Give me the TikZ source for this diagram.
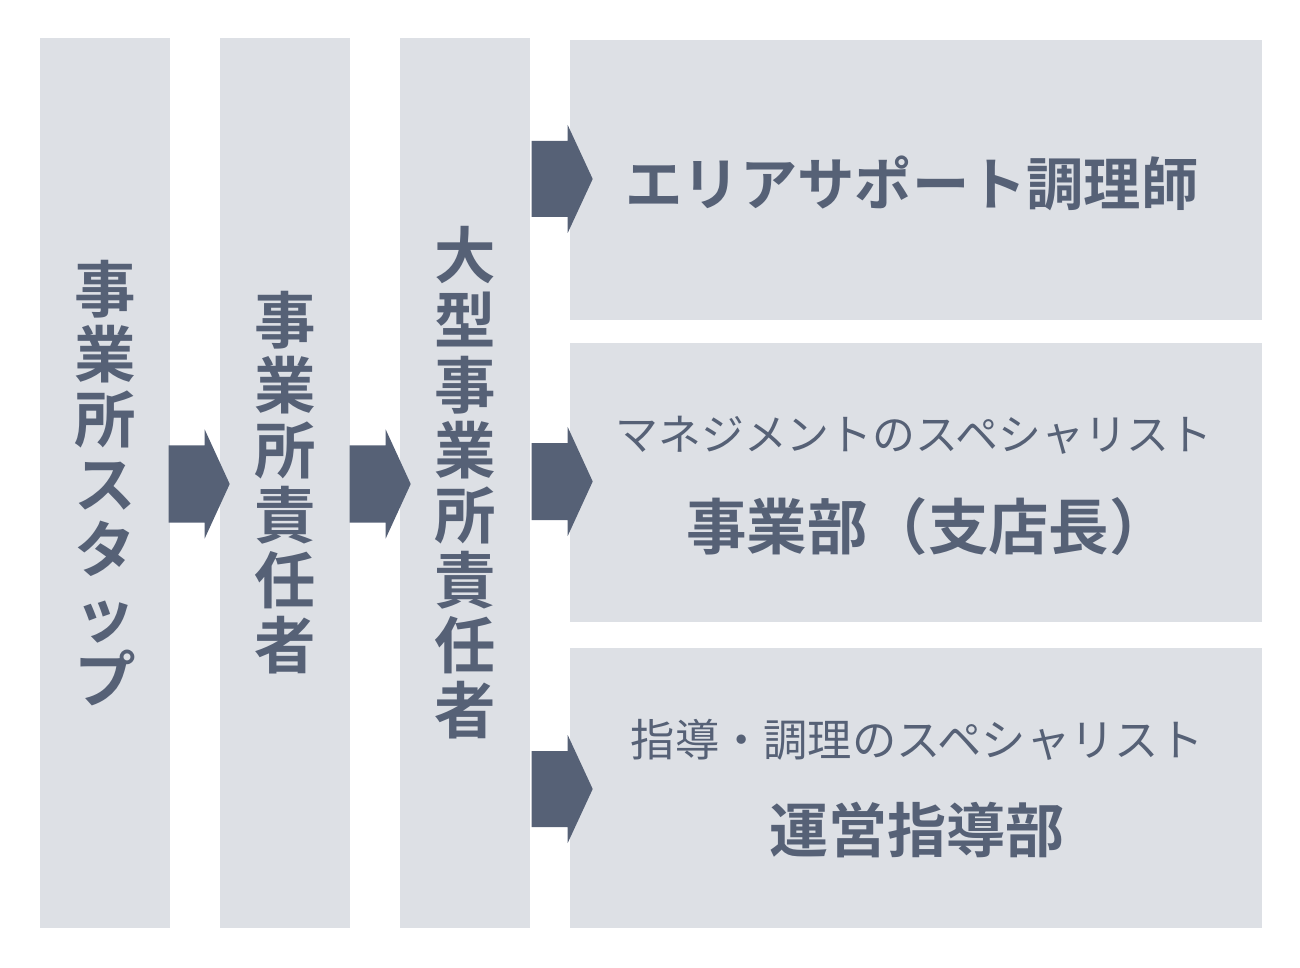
\documentclass[tikz,border=0pt]{standalone}
\usepackage{fontspec}
\setmainfont{Noto Sans CJK JP}[BoldFont={Noto Sans CJK JP Bold}]
\definecolor{panelgray}{HTML}{DDE0E5}
\definecolor{slateblue}{HTML}{566176}
\begin{document}
\begin{tikzpicture}[every node/.style={text=slateblue,inner sep=0pt},
  colbox/.style={fill=panelgray,minimum width=1.3cm,minimum height=8.9cm,align=center,font=\fontsize{17.5}{18.5}\selectfont\bfseries},
  rowbox/.style={fill=panelgray,minimum width=6.92cm,minimum height=2.8cm},
  subtxt/.style={font=\fontsize{12.2}{14}\selectfont},
  maintxt/.style={font=\fontsize{16.8}{18}\selectfont\bfseries},
  blockarr/.style={fill=slateblue}]
\useasboundingbox (0,0) rectangle (13,-9.68);
\node[colbox] (staff) at (1.05,-4.83) {事\\業\\所\\ス\\タ\\ッ\\プ};
\node[colbox] (lead) at (2.85,-4.83) {事\\業\\所\\責\\任\\者};
\node[colbox] (bigLead) at (4.65,-4.83) {大\\型\\事\\業\\所\\責\\任\\者};
\node[rowbox] (support) at (9.16,-1.80) {};
\node[rowbox,minimum height=2.79cm] (branch) at (9.16,-4.825) {};
\node[rowbox] (guide) at (9.16,-7.88) {};
\node[font=\fontsize{16.3}{18}\selectfont\bfseries] (supportTxt) at (9.12,-1.83) {エリアサポート調理師};
\node[subtxt] (branchSub) at (9.14,-4.35) {マネジメントのスペシャリスト};
\node[maintxt,font=\fontsize{17.2}{19}\selectfont\bfseries] (branchTxt) at (9.28,-5.27) {事業部（支店長）};
\node[subtxt,font=\fontsize{12.6}{14}\selectfont] (guideSub) at (9.17,-7.40) {指導・調理のスペシャリスト};
\node[maintxt] (guideTxt) at (9.17,-8.30) {運営指導部};
\fill[blockarr] (staff.east |- 0,-4.84) ++(-0.02,0.385) -- ++(0.36,0) -- ++(0,0.16) -- ++(0.25,-0.545) -- ++(-0.25,-0.545) -- ++(0,0.16) -- ++(-0.36,0) -- cycle;
\fill[blockarr] (lead.east |- 0,-4.84) ++(-0.01,0.385) -- ++(0.36,0) -- ++(0,0.16) -- ++(0.25,-0.545) -- ++(-0.25,-0.545) -- ++(0,0.16) -- ++(-0.36,0) -- cycle;
\fill[blockarr] (bigLead.east |- 0,-1.79) ++(0.01,0.38) -- ++(0.36,0) -- ++(0,0.16) -- ++(0.25,-0.54) -- ++(-0.25,-0.54) -- ++(0,0.16) -- ++(-0.36,0) -- cycle;
\fill[blockarr] (bigLead.east |- 0,-4.815) ++(0.01,0.385) -- ++(0.36,0) -- ++(0,0.16) -- ++(0.25,-0.545) -- ++(-0.25,-0.545) -- ++(0,0.16) -- ++(-0.36,0) -- cycle;
\fill[blockarr] (bigLead.east |- 0,-7.89) ++(0.01,0.38) -- ++(0.36,0) -- ++(0,0.16) -- ++(0.25,-0.54) -- ++(-0.25,-0.54) -- ++(0,0.16) -- ++(-0.36,0) -- cycle;
\end{tikzpicture}
\end{document}
